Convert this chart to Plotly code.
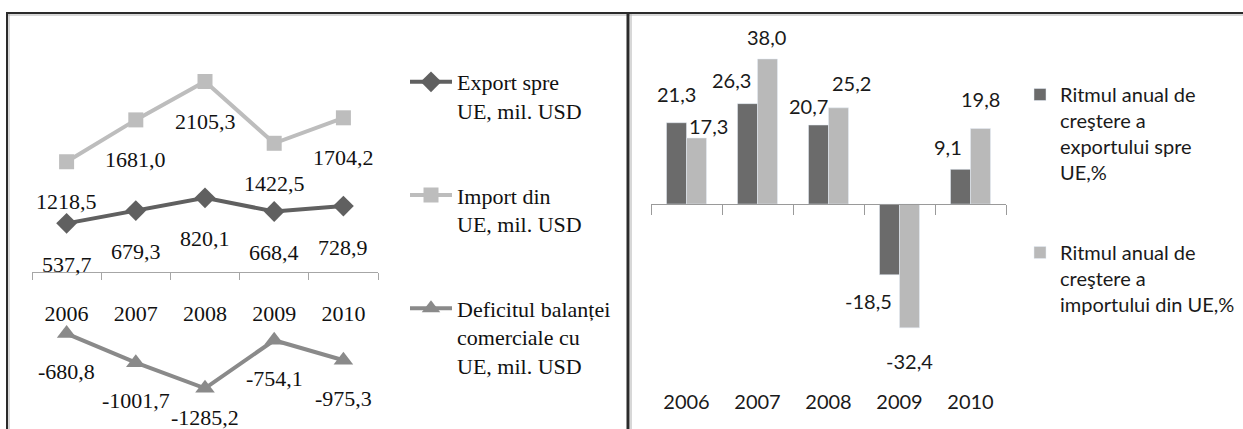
import plotly.graph_objects as go

# ---------------- data ----------------
years = ["2006", "2007", "2008", "2009", "2010"]
export_eu = [537.7, 679.3, 820.1, 668.4, 728.9]
import_eu = [1218.5, 1681.0, 2105.3, 1422.5, 1704.2]
deficit_eu = [-680.8, -1001.7, -1285.2, -754.1, -975.3]
export_growth = [21.3, 26.3, 20.7, -18.5, 9.1]
import_growth = [17.3, 38.0, 25.2, -32.4, 19.8]

name_export = "Export spre<br>UE, mil. USD"
name_import = "Import din<br>UE, mil. USD"
name_deficit = "Deficitul balanței<br>comerciale cu<br>UE, mil. USD"
name_exp_growth = "Ritmul anual de<br>creştere a<br>exportului spre<br>UE,%"
name_imp_growth = "Ritmul anual de<br>creştere a<br>importului din UE,%"

# label nudges (px), as in the original layout
deficit_lbl_dy = [-38, -38, -29, -38, -38]
exp_lbl_dx = [0, -16, -10, -21, -13]
exp_lbl_dy = [29, 24, 19, 26, 22]
imp_lbl_dx = [12, -1, 13, 0, 0]
imp_lbl_dy = [12, 22, 25, 33, 29]


def fmt(v):
    return f"{v:.1f}".replace(".", ",")


W, H = 1243, 429


def px_x(x):
    return x / W


def px_y(y):
    return 1 - y / H


SERIF = "Liberation Serif, Times New Roman, serif"
SANS = "Lato, Carlito, Calibri, sans-serif"

C_EXP = "#606060"
C_IMP = "#bdbdbd"
C_DEF = "#8a8a8a"
C_BAR1 = "#6b6b6b"
C_BAR2 = "#b9b9b9"

ydom = [0, px_y(20)]
yr_left = [-1735, 2785]
yr_right = [-58.9, 48.2]


def zero_pos(rng, dom):
    return dom[0] + (0 - rng[0]) / (rng[1] - rng[0]) * (dom[1] - dom[0])


fig = go.Figure()

fig.add_trace(go.Scatter(
    x=years, y=export_eu, name=name_export, mode="lines+markers",
    line=dict(color=C_EXP, width=4),
    marker=dict(symbol="diamond", size=16, color=C_EXP),
    xaxis="x", yaxis="y", legend="legend", legendgroup="g1"))
fig.add_trace(go.Scatter(
    x=years, y=import_eu, name=name_import, mode="lines+markers",
    line=dict(color=C_IMP, width=4),
    marker=dict(symbol="square", size=15, color=C_IMP),
    xaxis="x", yaxis="y", legend="legend", legendgroup="g2"))
fig.add_trace(go.Scatter(
    x=years, y=deficit_eu, name=name_deficit, mode="lines+markers",
    line=dict(color=C_DEF, width=4),
    marker=dict(symbol="triangle-up", size=17, color=C_DEF),
    xaxis="x", yaxis="y", legend="legend", legendgroup="g3"))

fig.add_trace(go.Bar(
    x=years, y=export_growth, name=name_exp_growth, marker_color=C_BAR1,
    xaxis="x2", yaxis="y2", legend="legend2", legendgroup="b1"))
fig.add_trace(go.Bar(
    x=years, y=import_growth, name=name_imp_growth, marker_color=C_BAR2,
    xaxis="x2", yaxis="y2", legend="legend2", legendgroup="b2"))

annotations = []
for series, shifts in ((export_eu, [-41] * 5), (import_eu, [-40] * 5),
                       (deficit_eu, deficit_lbl_dy)):
    for i, (v, s) in enumerate(zip(series, shifts)):
        annotations.append(dict(
            x=i, y=v, xref="x", yref="y", text=fmt(v), showarrow=False,
            yshift=s, font=dict(family=SERIF, size=22, color="#111111")))

half_bar = 10
for series, base, dxs, dys in ((export_growth, -half_bar, exp_lbl_dx, exp_lbl_dy),
                               (import_growth, half_bar, imp_lbl_dx, imp_lbl_dy)):
    for i, (v, dx, dy) in enumerate(zip(series, dxs, dys)):
        annotations.append(dict(
            x=i, y=v, xref="x2", yref="y2", text=fmt(v), showarrow=False,
            xshift=base + dx, yshift=dy if v >= 0 else -dy,
            font=dict(family=SANS, size=20, color="#1a1a1a")))

border = "#2b2b2b"
shapes = [
    dict(type="line", xref="paper", yref="paper", x0=px_x(6), x1=1, y0=px_y(13), y1=px_y(13),
         line=dict(color=border, width=2)),
    dict(type="line", xref="paper", yref="paper", x0=px_x(8), x1=1, y0=px_y(15), y1=px_y(15),
         line=dict(color="#b0b0b0", width=1)),
    dict(type="line", xref="paper", yref="paper", x0=px_x(7), x1=px_x(7), y0=px_y(12), y1=0,
         line=dict(color=border, width=2)),
    dict(type="line", xref="paper", yref="paper", x0=px_x(9), x1=px_x(9), y0=px_y(14), y1=0,
         line=dict(color="#b0b0b0", width=1)),
    dict(type="line", xref="paper", yref="paper", x0=px_x(628), x1=px_x(628), y0=px_y(12), y1=0,
         line=dict(color=border, width=3)),
    dict(type="line", xref="paper", yref="paper", x0=px_x(631), x1=px_x(631), y0=px_y(14), y1=0,
         line=dict(color="#b0b0b0", width=1)),
]

fig.update_layout(
    width=W, height=H, margin=dict(l=0, r=0, t=0, b=0),
    paper_bgcolor="white", plot_bgcolor="rgba(0,0,0,0)",
    barmode="group", bargap=0.437, bargroupgap=0,
    showlegend=True,
    xaxis=dict(domain=[px_x(32), px_x(378)], type="category", range=[-0.5, 4.5],
               anchor="free", position=zero_pos(yr_left, ydom),
               showline=True, linecolor="#a6a6a6", linewidth=1,
               ticks="outside", ticklen=7, tickcolor="#a6a6a6", tickson="boundaries",
               tickfont=dict(family=SERIF, size=22, color="#111111"),
               ticklabelstandoff=22, showgrid=False, zeroline=False),
    yaxis=dict(domain=ydom, range=yr_left, visible=False, anchor="x"),
    xaxis2=dict(domain=[px_x(651), px_x(1006)], type="category", range=[-0.5, 4.5],
                anchor="free", position=zero_pos(yr_right, ydom),
                showline=True, linecolor="#9a9a9a", linewidth=1,
                ticks="outside", ticklen=10, tickcolor="#9a9a9a", tickson="boundaries",
                tickfont=dict(family=SANS, size=20, color="#1a1a1a"),
                ticklabelstandoff=180, showgrid=False, zeroline=False),
    yaxis2=dict(domain=ydom, range=yr_right, visible=False, anchor="x2"),
    legend=dict(x=px_x(405), y=px_y(61), xanchor="left", yanchor="top",
                font=dict(family=SERIF, size=22, color="#111111"),
                valign="top", tracegroupgap=53, traceorder="grouped",
                itemwidth=42, bgcolor="rgba(0,0,0,0)"),
    legend2=dict(x=px_x(1020), y=px_y(75), xanchor="left", yanchor="top",
                 font=dict(family=SANS, size=20, color="#1a1a1a"),
                 valign="top", tracegroupgap=51, traceorder="grouped",
                 bgcolor="rgba(0,0,0,0)"),
    annotations=annotations,
    shapes=shapes,
)

fig.write_html("out.html", config={"displayModeBar": False},
               post_script="document.body.style.margin='0';")
